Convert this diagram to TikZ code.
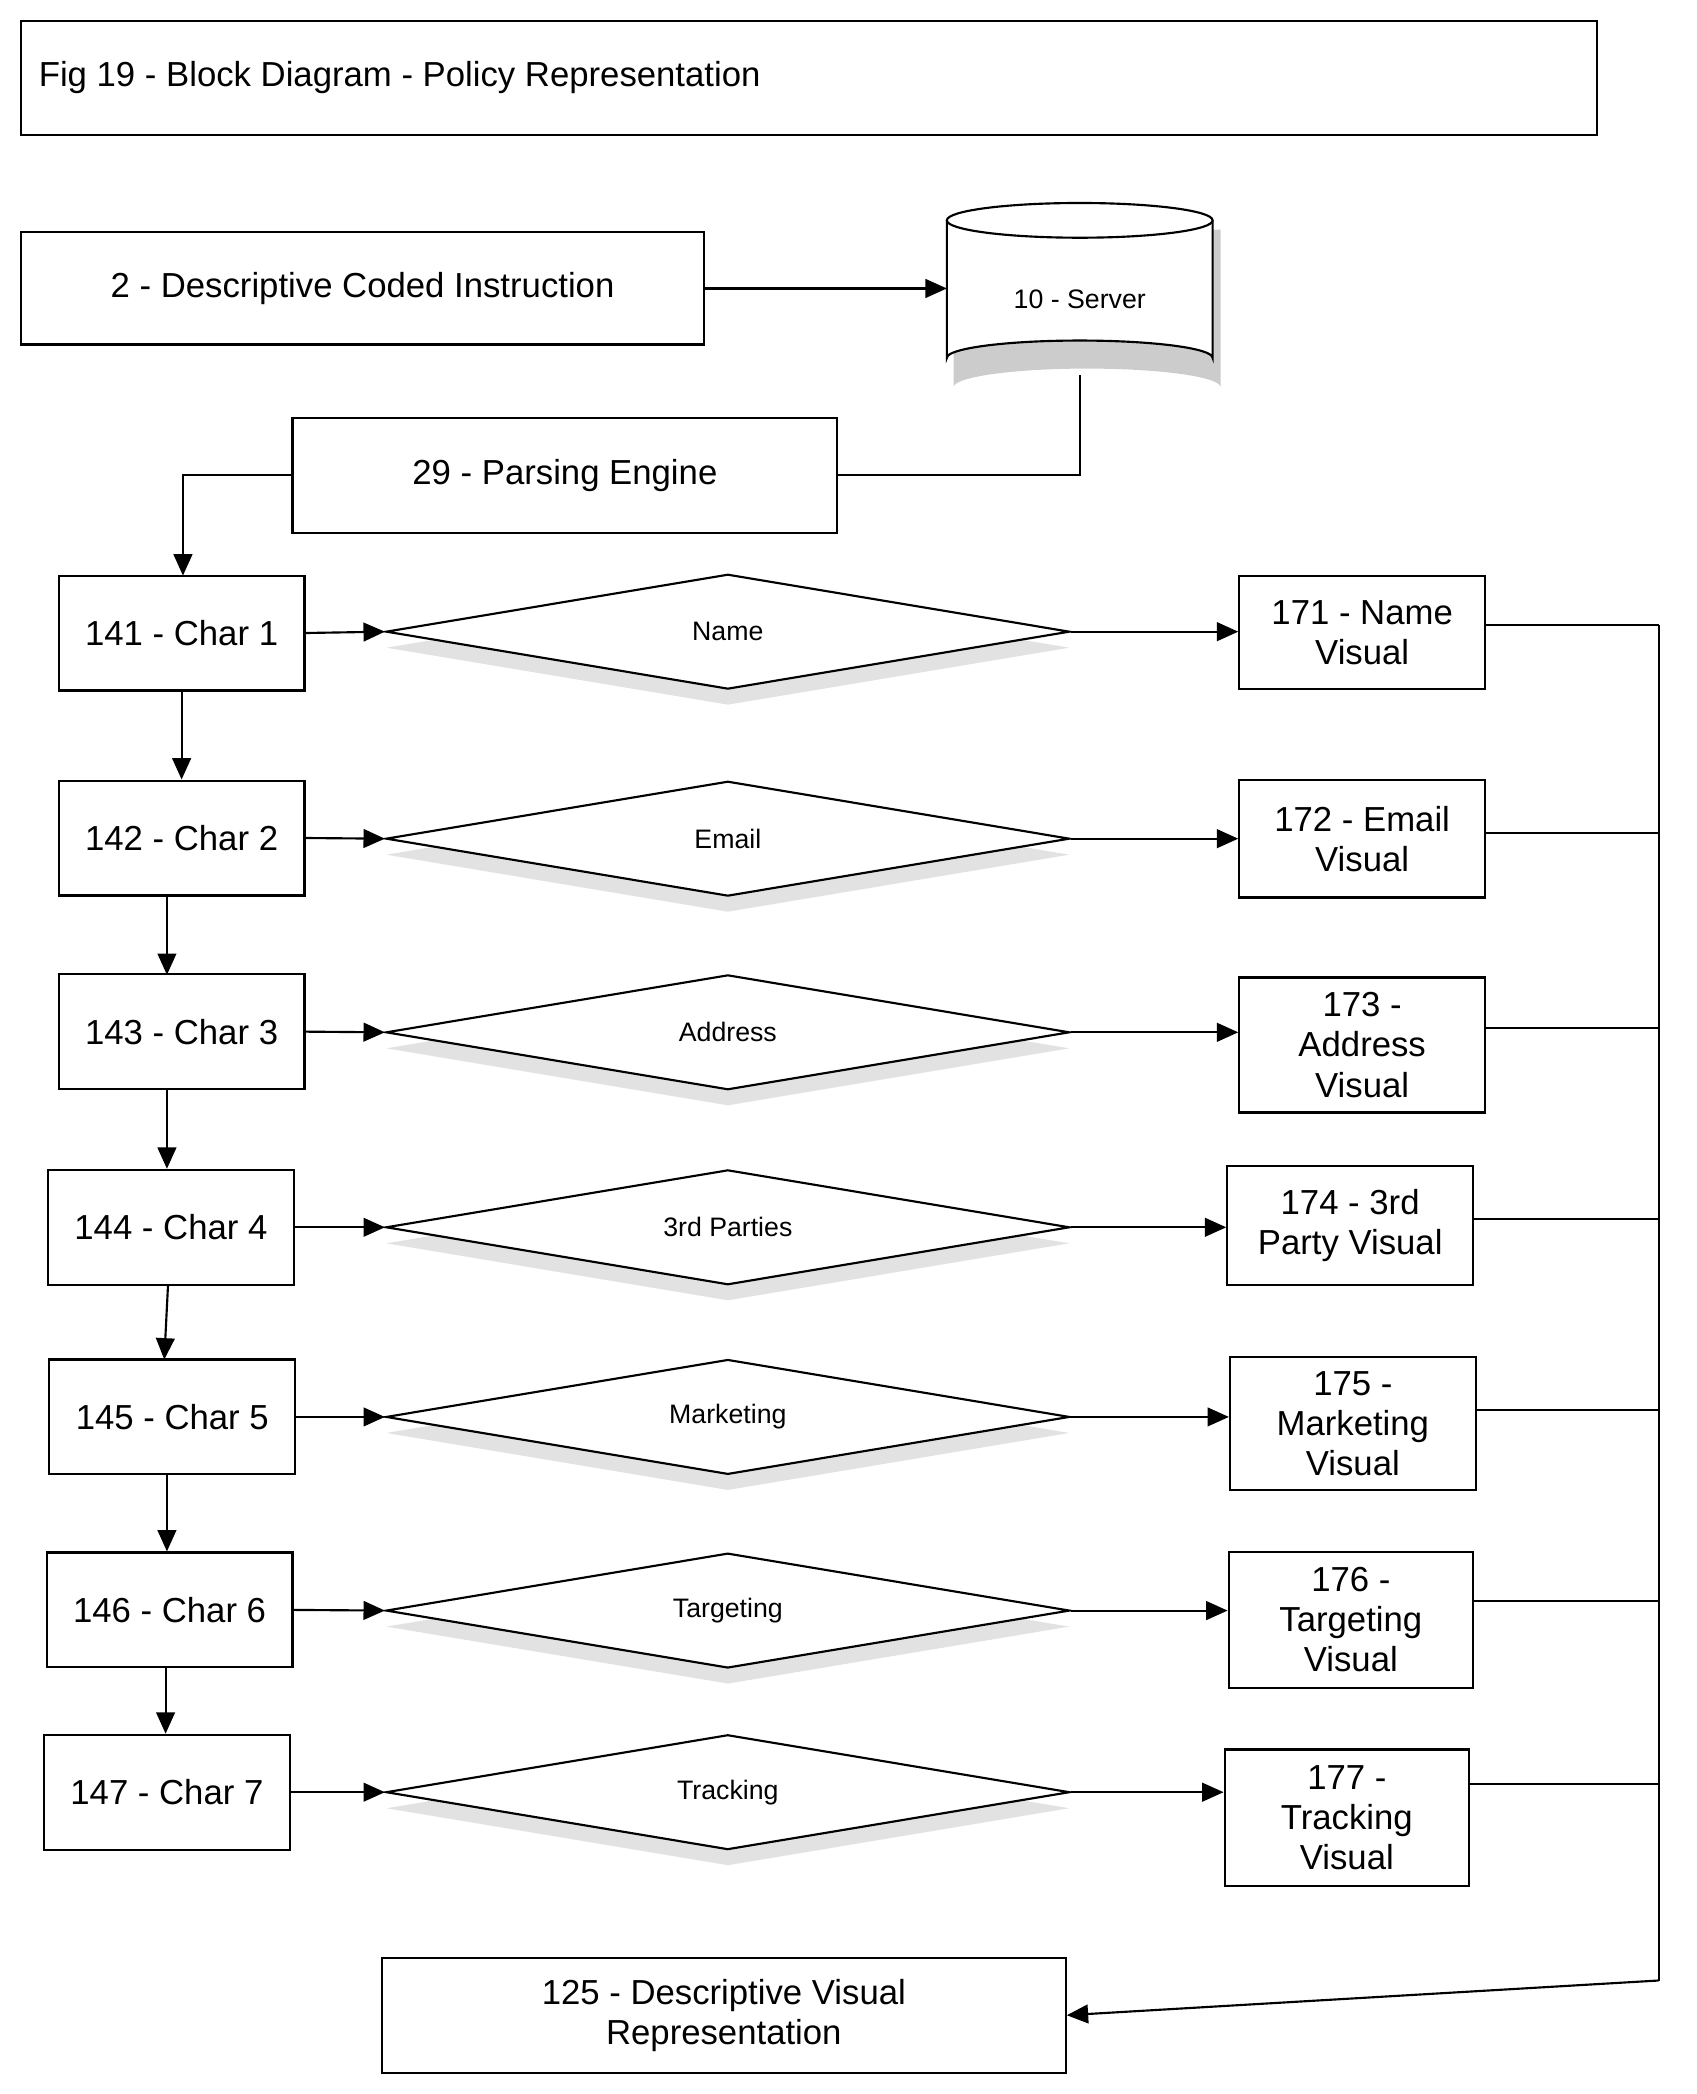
\documentclass[tikz,border=0pt]{standalone}
\usepackage{fontspec}
\setmainfont{Liberation Sans}
\usetikzlibrary{shapes.geometric,shadows,arrows.meta}
\begin{document}
\begin{tikzpicture}[x=0.5pt,y=-0.5pt,
 box/.style={draw,thick,fill=white,align=center,font=\fontsize{13}{15}\selectfont,inner sep=1pt},
 dia/.style={diamond,aspect=8,draw,thick,fill=white,minimum width=256pt,minimum height=43pt,inner sep=0pt,font=\fontsize{10}{12}\selectfont,drop shadow={shadow xshift=0pt,shadow yshift=-6pt,fill=gray!45}},
 arr/.style={thick,-{Triangle[length=8pt,width=7pt]}},
 ln/.style={thick}]
\useasboundingbox (0,0) rectangle (1270,1568);
\node[box,minimum width=590pt,minimum height=42.5pt] (title) at (606,58.5) {};
\node[anchor=west,font=\fontsize{13}{15}\selectfont] (tt) at (22,58) {Fig 19 - Block Diagram - Policy Representation};
\node[box,minimum width=255.5pt,minimum height=42pt] (dci) at (271.5,216) {2 - Descriptive Coded Instruction};
% server cylinder
\fill[gray!40] (714,172) -- (714,290) arc[start angle=180,end angle=360,x radius=100,y radius=14] -- (914,172) -- cycle;
\filldraw[thick,fill=white] (709,165) -- (709,268) arc[start angle=180,end angle=360,x radius=99.5,y radius=13] -- (908,165);
\filldraw[thick,fill=white] (808.5,165) ellipse[x radius=99.5,y radius=13];
\node[font=\fontsize{10}{12}\selectfont] (srv) at (808.5,224) {10 - Server};
\coordinate (srvl) at (709,216);
\coordinate (srvb) at (808.5,281);
\node[box,minimum width=204pt,minimum height=43pt] (pe) at (423,356) {29 - Parsing Engine};
\draw[arr] (dci.east) -- (srvl);
\draw[ln] (srvb) |- (pe.east);
\draw[arr] (pe.west) -| (137,431);
% chars
\foreach \n/\cx/\cy/\lab in {1/136/474/141 - Char 1,2/136/627.5/142 - Char 2,3/136/772.5/143 - Char 3,4/128/919/144 - Char 4,5/129/1061/145 - Char 5,6/127/1205.5/146 - Char 6,7/125/1342/147 - Char 7}
 \node[box,minimum width=92pt,minimum height=43pt] (c\n) at (\cx,\cy) {\lab};
\foreach \n/\cy/\lab in {1/473/Name,2/628/Email,3/773/Address,4/919/3rd Parties,5/1061/Marketing,6/1206/Targeting,7/1342/Tracking}
 \node[dia] (d\n) at (545,\cy) {\lab};
\foreach \n/\cx/\cy/\w/\h/\lab in {1/1020/473.5/92/42.5/{171 - Name\\Visual},2/1020/628/92/44/{172 - Email\\Visual},3/1020/782.5/92/50.5/{173 -\\Address\\Visual},4/1011/917.5/92/44.5/{174 - 3rd\\Party Visual},5/1013/1066/92/50/{175 -\\Marketing\\Visual},6/1011.5/1213/91.5/51/{176 -\\Targeting\\Visual},7/1008.5/1361/91.5/51/{177 -\\Tracking\\Visual}}
 \node[box,minimum width=\w pt,minimum height=\h pt] (v\n) at (\cx,\cy) {\lab};
\node[box,minimum width=256pt,minimum height=43pt] (res) at (542,1509) {125 - Descriptive Visual\\Representation};
\foreach \n in {1,...,7}{
 \draw[arr] (c\n.east) -- (d\n.west);
 \draw[arr] (d\n.east) -- (v\n.west |- d\n.east);
}
\draw[arr] (c1) -- (c2); \draw[arr] (125,670) -- (125,730);
\draw[arr] (125,815) -- (c4.north -| 125,0);
\draw[arr] (c4) -- (123,1018);
\draw[arr] (125,1104) -- (c6.north -| 125,0);
\draw[arr] (124,1248) -- (c7.north -| 124,0);
\coordinate (bus) at (1242,1483);
\foreach \n/\yy in {1/468,2/624,3/770,4/913,5/1056,6/1199,7/1336}
 \draw[ln] (v\n.east |- 0,\yy) -- (1242,\yy);
\draw[ln] (1242,468) -- (bus);
\draw[arr] (bus) -- (res.east);
\end{tikzpicture}
\end{document}
